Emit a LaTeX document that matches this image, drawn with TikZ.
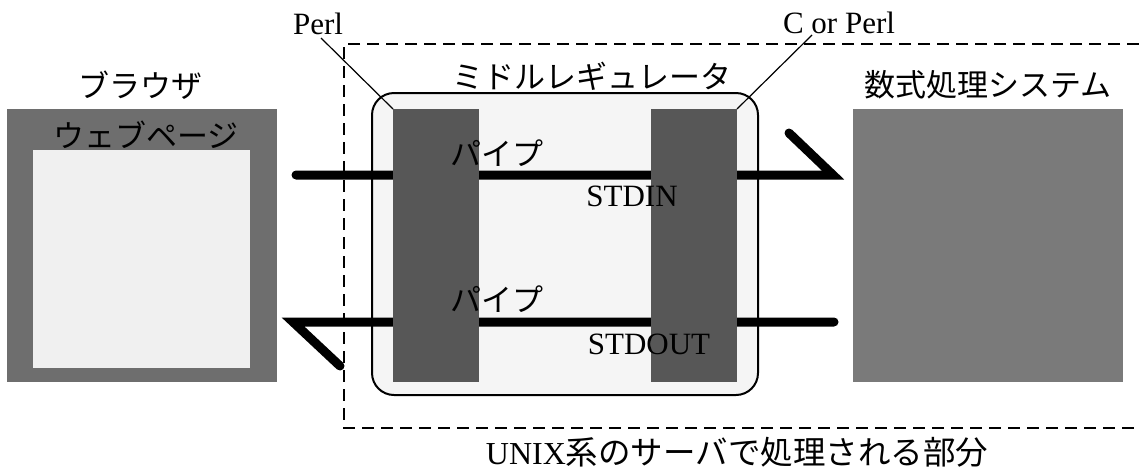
\documentclass[tikz,border=0pt]{standalone}
\usepackage{fontspec}
\setmainfont{Liberation Serif}
\newfontfamily\jp{Noto Sans CJK JP}
\begin{document}
\begin{tikzpicture}[x=1pt,y=-1pt,
  box/.style={inner sep=0pt, outer sep=0pt, anchor=north west, draw=none},
  lbl/.style={font=\fontsize{31}{33}\selectfont, inner sep=0pt},
  jlbl/.style={font=\jp\fontsize{31}{33}\selectfont, inner sep=0pt},
  bar/.style={box, fill=black!66, minimum width=86, minimum height=273},
  pipe/.style={line width=9pt, line cap=round, line join=miter, miter limit=10},
  lead/.style={line width=1.2pt},
  region/.style={line width=1.4pt, dash pattern=on 12pt off 7pt}]
\useasboundingbox (0,0) rectangle (1139,472);
\fill[white] (0,0) rectangle (1139,472);

% browser
\node[box, fill=black!57, minimum width=270, minimum height=273] (browser) at (7,109) {};
\node[box, fill=black!6, minimum width=217, minimum height=218] (page) at (33,150) {};
\node[jlbl] (browsert) at (140,85) {ブラウザ};
\node[jlbl] (paget) at (146,135) {ウェブページ};

% middle regulator
\draw[line width=2pt, fill=black!4, rounded corners=22pt] (372,93) rectangle (758,395);
\node[jlbl] (midt) at (592,76) {ミドルレギュレータ};

% pipes
\coordinate (p1a) at (789,133);
\coordinate (p1b) at (833,175);
\coordinate (p1c) at (296,175);
\coordinate (p2a) at (834,322);
\coordinate (p2b) at (293,322);
\coordinate (p2c) at (340,366);
\draw[pipe] (p1a) -- (p1b) -- (p1c);
\draw[pipe] (p2a) -- (p2b) -- (p2c);

% bars
\node[bar] (lbar) at (393,109) {};
\node[bar] (rbar) at (651,109) {};

% system
\node[box, fill=black!52, minimum width=270, minimum height=273] (sys) at (853,109) {};
\node[jlbl] (syst) at (988,85) {数式処理システム};

% labels
\node[jlbl] (pipe1) at (497,153) {パイプ};
\node[lbl] (stdin) at (632,196) {STDIN};
\node[jlbl] (pipe2) at (497,299) {パイプ};
\node[lbl] (stdout) at (649,344) {STDOUT};

\node[lbl] (perl) at (318,24) {Perl};
\node[lbl] (cperl) at (839,23) {C or Perl};
\coordinate (perlfoot) at (321,38);
\coordinate (cperlfoot) at (812,35);
\draw[lead] (perlfoot) -- (lbar.north west);
\draw[lead] (cperlfoot) -- (rbar.north east);

% unix region
\coordinate (ua) at (1139,44);
\coordinate (ub) at (344,44);
\coordinate (uc) at (344,428);
\coordinate (ud) at (1139,428);
\draw[region] (ua) -- (ub) -- (uc) -- (ud);
\node[font=\fontsize{32}{34}\selectfont, inner sep=0pt, anchor=base] (unixt) at (737,464) {UNIX{\jp\fontsize{32.5}{34}\selectfont 系のサーバで処理される部分}};
\end{tikzpicture}
\end{document}
